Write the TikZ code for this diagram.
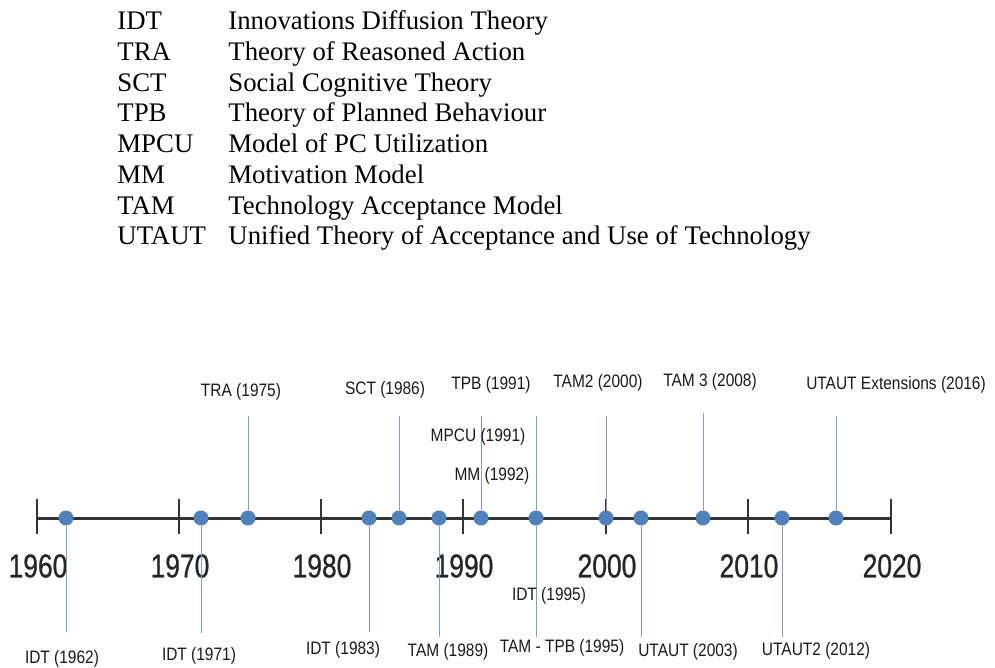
\documentclass[tikz,border=0pt]{standalone}
\usepackage{fontspec}
\setmainfont{Liberation Serif}
\newfontfamily\tlfont[FakeStretch=0.86]{Liberation Sans}
\newfontfamily\yrfont[FakeStretch=0.8,FakeBold=0.8]{Liberation Sans}
\definecolor{dotblue}{HTML}{4F81BD}
\definecolor{stemblue}{HTML}{7F9FD3}
\definecolor{axisgray}{HTML}{333333}

\begin{document}
\begin{tikzpicture}[x=0.5pt,y=-0.5pt,
    dot/.style={circle,fill=dotblue,inner sep=0pt,minimum size=7.5pt},
    stem/.style={stemblue,line width=0.5pt},
    lab/.style={inner sep=0pt,text=black!90,font=\tlfont\fontsize{9}{10}\selectfont},
    yr/.style={inner sep=0pt,text=black!85,font=\yrfont\fontsize{16.5}{17}\selectfont},
    key/.style={anchor=base west,inner sep=0pt,font=\fontsize{13.4}{14}\selectfont}]
  \useasboundingbox (0,0) rectangle (995,668);

  % Legend of abbreviations
  \foreach \k/\t/\y in {IDT/Innovations Diffusion Theory/30,
      TRA/Theory of Reasoned Action/60.7,
      SCT/Social Cognitive Theory/91.4,
      TPB/Theory of Planned Behaviour/122,
      MPCU/Model of PC Utilization/152.8,
      MM/Motivation Model/183.5,
      TAM/Technology Acceptance Model/214,
      UTAUT/Unified Theory of Acceptance and Use of Technology/245} {
    \node[key] (k\k) at (117,\y) {\k};
    \node[key] (n\k) at (228,\y) {\t};
  }

  % Axis with decade ticks
  \draw[axisgray,line width=1.5pt] (37,518) -- (891,518);
  \foreach \yy/\x in {1960/37,1970/179,1980/321,1990/463,2000/606,2010/748,2020/891} {
    \draw[axisgray,line width=1.2pt] (\x,499) -- (\x,534);
    \node[yr] (y\yy) at (\x+1,566) {\yy};
  }

  % Events on the axis
  \foreach \i/\x/\e in {1/66/632,2/201/633,3/248/416,4/369/632,5/399/416,
      6/439/637,7/481/416,8/536/416,9/606/416,10/641/637,11/703/413,
      12/782/637,13/836/416} {
    \node[dot] (d\i) at (\x,518) {};
    \coordinate (s\i) at (\x,\e);
    \draw[stem] (d\i) -- (s\i);
  }
  \coordinate (s8b) at (536,637);
  \draw[stem] (d8) -- (s8b);

  % Event labels
  \foreach \i/\x/\y/\t in {1/62/659/IDT (1962),2/199/656/IDT (1971),
      3/241/392/TRA (1975),4/343/650/IDT (1983),5/385/390/SCT (1986),
      6/448/652/TAM (1989),7/491/385/TPB (1991),8/478/437/MPCU (1991),
      9/492/476/MM (1992),10/549/596/IDT (1995),11/562/648/TAM - TPB (1995),
      12/598/383/TAM2 (2000),13/688/652/UTAUT (2003),14/710/382/TAM 3 (2008),
      15/816/651/UTAUT2 (2012),16/896/385/UTAUT Extensions (2016)} {
    \node[lab] (l\i) at (\x,\y) {\t};
  }
\end{tikzpicture}
\end{document}
